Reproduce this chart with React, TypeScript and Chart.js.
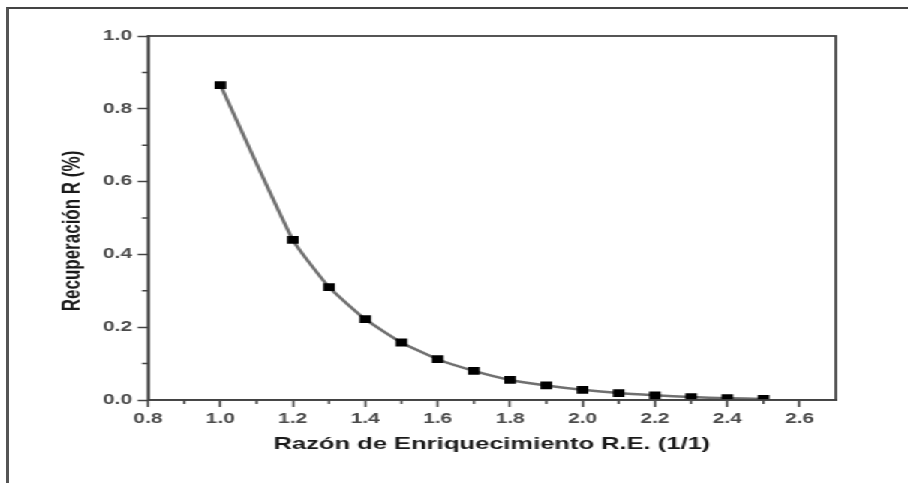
import { useEffect, useRef } from "react";
import { Chart, registerables } from "chart.js";

Chart.register(...registerables);

// ---- data ----
const xValues = [1.0, 1.2, 1.3, 1.4, 1.5, 1.6, 1.7, 1.8, 1.9, 2.0, 2.1, 2.2, 2.3, 2.4, 2.5];
const recovery = [0.865, 0.44, 0.31, 0.222, 0.158, 0.112, 0.08, 0.055, 0.04, 0.028, 0.019, 0.013, 0.008, 0.005, 0.003];

const xMajorTicks = [0.8, 1.0, 1.2, 1.4, 1.6, 1.8, 2.0, 2.2, 2.4, 2.6];
const xMinorTicks = [0.9, 1.1, 1.3, 1.5, 1.7, 1.9, 2.1, 2.3, 2.5];
const yMajorTicks = [0.0, 0.2, 0.4, 0.6, 0.8, 1.0];
const yMinorTicks = [0.1, 0.3, 0.5, 0.7, 0.9];

const xTitle = "Razón de Enriquecimiento R.E. (1/1)";
const yTitle = "Recuperación R (%)";

// ---- layout ----
const CANVAS_W = 605;
const CANVAS_H = 483;
const STRETCH = 908 / CANVAS_W;
const FONT = '"Liberation Sans", Arial, Helvetica, sans-serif';

const boxPlugin = {
  id: "boxAndMinor",
  afterDraw(chart: any) {
    const { ctx, chartArea: a, scales } = chart;
    ctx.save();
    ctx.strokeStyle = "#444";
    ctx.lineWidth = 1.8;
    ctx.strokeRect(a.left, a.top, a.right - a.left, a.bottom - a.top);

    ctx.lineWidth = 1.5;
    ctx.beginPath();
    xMinorTicks.forEach((v) => {
      const px = scales.x.getPixelForValue(v);
      ctx.moveTo(px, a.bottom);
      ctx.lineTo(px, a.bottom + 4);
    });
    yMinorTicks.forEach((v) => {
      const py = scales.y.getPixelForValue(v);
      ctx.moveTo(a.left, py);
      ctx.lineTo(a.left - 4, py);
    });
    ctx.stroke();

    ctx.font = `bold 17px ${FONT}`;
    ctx.fillStyle = "#1a1a1a";
    ctx.textAlign = "center";
    ctx.textBaseline = "middle";
    ctx.translate(48, (a.top + a.bottom) / 2 + 13);
    ctx.rotate(-Math.PI / 2);
    ctx.fillText(yTitle, 0, 0);
    ctx.restore();
  },
};

export default function App() {
  const ref = useRef<HTMLCanvasElement | null>(null);

  useEffect(() => {
    if (!ref.current) return;
    const chart = new Chart(ref.current, {
      type: "line",
      data: {
        datasets: [
          {
            data: xValues.map((x, i) => ({ x, y: recovery[i] })),
            borderColor: "#707070",
            borderWidth: 2.5,
            pointStyle: "rect",
            pointRadius: 5.5,
            pointBackgroundColor: "#000",
            pointBorderColor: "#000",
            pointBorderWidth: 0,
            tension: 0.15,
            fill: false,
          },
        ],
      },
      options: {
        animation: false,
        responsive: false,
        devicePixelRatio: 1,
        layout: { padding: { left: 0, top: 36, right: 48, bottom: 0 } },
        plugins: { legend: { display: false }, tooltip: { enabled: false } },
        scales: {
          x: {
            type: "linear",
            min: 0.8,
            max: 2.7,
            afterBuildTicks: (s: any) => {
              s.ticks = xMajorTicks.map((value) => ({ value }));
            },
            afterFit: (s: any) => {
              s.height = 83;
            },
            ticks: {
              padding: 4,
              color: "#4a4a4a",
              autoSkip: false,
              maxRotation: 0,
              font: { family: FONT, size: 14, weight: "bold" },
              callback: (v: any) => Number(v).toFixed(1),
            },
            grid: {
              drawOnChartArea: false,
              drawTicks: true,
              tickLength: 7,
              tickColor: "#444",
              tickWidth: 1.5,
            },
            border: { display: true, color: "#444", width: 1.8 },
            title: {
              display: true,
              text: xTitle,
              color: "#1a1a1a",
              font: { family: FONT, size: 17, weight: "bold" },
              padding: { top: 0, bottom: 28 },
            },
          },
          y: {
            type: "linear",
            min: 0,
            max: 1,
            afterBuildTicks: (s: any) => {
              s.ticks = yMajorTicks.map((value) => ({ value }));
            },
            afterFit: (s: any) => {
              s.width = 98.6;
            },
            ticks: {
              padding: 3.6,
              color: "#4a4a4a",
              autoSkip: false,
              font: { family: FONT, size: 14, weight: "bold" },
              callback: (v: any) => Number(v).toFixed(1),
            },
            grid: {
              drawOnChartArea: false,
              drawTicks: true,
              tickLength: 7,
              tickColor: "#444",
              tickWidth: 1.5,
            },
            border: { display: true, color: "#444", width: 1.8 },
            title: { display: false },
          },
        },
      },
      plugins: [boxPlugin],
    } as any);
    return () => chart.destroy();
  }, []);

  return (
    <>
      <div
        style={{
          position: "fixed",
          left: 0,
          top: 0,
          width: CANVAS_W,
          height: CANVAS_H,
          transform: `scaleX(${STRETCH})`,
          transformOrigin: "0 0",
          background: "#fff",
        }}
      >
        <canvas ref={ref} width={CANVAS_W} height={CANVAS_H} style={{ display: "block" }} />
      </div>
      <div
        style={{
          position: "fixed",
          left: 6,
          top: 7,
          width: 902,
          height: 476,
          borderTop: "2px solid #444",
          borderLeft: "3px solid #555",
          pointerEvents: "none",
        }}
      />
    </>
  );
}
